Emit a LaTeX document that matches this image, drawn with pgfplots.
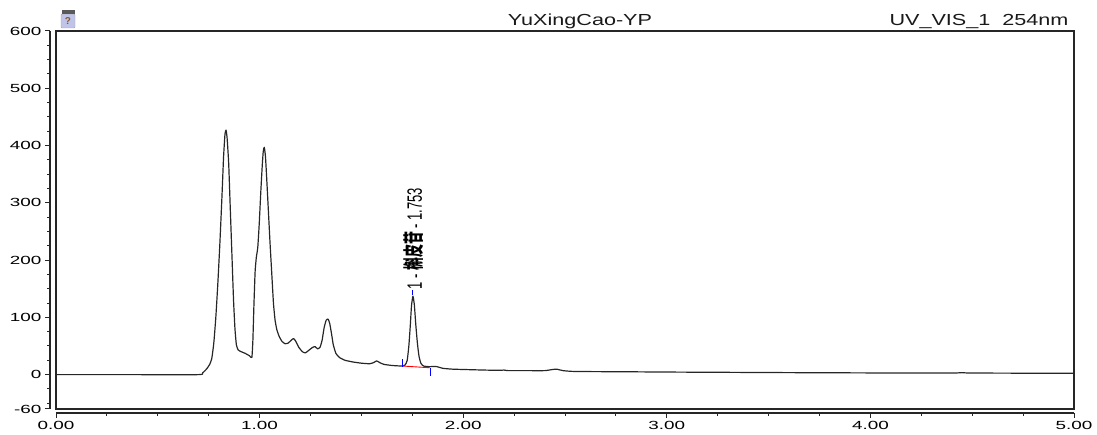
\documentclass[border=0pt]{standalone}
\usepackage{fontspec}
\setmainfont{Liberation Sans}
\newfontfamily\widefont[FakeStretch=1.6]{Liberation Sans}
\newfontfamily\titlefont[FakeStretch=1.35]{Liberation Sans}
\newfontfamily\cjk{Noto Sans CJK SC}
\usepackage{pgfplots}
\pgfplotsset{compat=1.18}

% chromatogram trace: retention time (min) vs. signal (mAU)
\pgfplotstableread{
t      s
0.000  0
0.350  0
0.700  0
0.720  3
0.740  10
0.755  18
0.765  28
0.775  55
0.785  100
0.795  160
0.805  230
0.815  310
0.823  380
0.830  420
0.835  427
0.840  415
0.848  370
0.856  290
0.864  210
0.872  130
0.879  80
0.886  52
0.895  43
0.910  40
0.930  37
0.950  33
0.962  30
0.967  60
0.972  120
0.978  180
0.984  205
0.991  222
0.998  262
1.006  320
1.013  365
1.018  390
1.023  397
1.029  380
1.036  335
1.044  280
1.052  225
1.060  175
1.068  125
1.076  95
1.085  78
1.097  66
1.110  58
1.125  54
1.140  55
1.155  60
1.167  63
1.178  58
1.192  48
1.210  40
1.225  38
1.240  42
1.258  47
1.272  49
1.285  45
1.297  48
1.307  60
1.317  82
1.327  95
1.336  97
1.344  90
1.353  72
1.362  52
1.375  37
1.392  30
1.420  25
1.460  22
1.500  20
1.540  19
1.560  21
1.575  24
1.590  21
1.610  18
1.650  16
1.700  15
1.715  17
1.725  25
1.733  50
1.740  85
1.746  120
1.753  137
1.760  122
1.767  88
1.775  55
1.783  32
1.792  20
1.805  15
1.830  14
1.870  14
1.900  11
1.950  9.5
2.000  9
2.100  8
2.180  7.5
2.200  8
2.220  7
2.300  7
2.400  7
2.440  9
2.460  9.5
2.490  7
2.550  5.5
2.800  5
3.000  4.5
3.300  4
3.600  3.5
4.000  3
4.400  2.8
4.450  3.5
4.500  2.8
5.000  2.3
}\trace

\begin{document}
\begin{tikzpicture}
\useasboundingbox (0,0) rectangle (1097pt,435pt);

% header texts
\node[anchor=base, font=\titlefont\fontsize{16}{18}\selectfont, text=black!90] at (580pt,409pt) {YuXingCao-YP};
\node[anchor=base east, font=\titlefont\fontsize{16}{18}\selectfont, text=black!90] at (1072pt,409pt) {UV\_VIS\_1\ \ 254nm};

% small help icon
\draw[fill=cyan!30!blue!25, draw=gray!70, rounded corners=1pt] (61pt,407pt) rectangle (75pt,421pt);
\fill[gray!70!black] (61.5pt,421pt) rectangle (74.5pt,425pt);
\node[font=\fontsize{10}{11}\selectfont\bfseries, text=brown!70!black] at (68pt,413.5pt) {?};

\begin{axis}[
  scale only axis,
  width=1018pt, height=378pt,
  at={(56pt,26pt)}, anchor=south west,
  xmin=0, xmax=5, ymin=-60, ymax=600,
  axis lines*=left,
  axis line style={-, line width=1.2pt, black!85},
  axis y line shift=6pt,
  axis x line shift=4pt,
  tick align=outside,
  major tick length=5pt,
  minor tick length=3pt,
  every tick/.style={black!85, line width=1pt},
  xtick={0,1,2,3,4,5},
  minor xtick={0.25,0.5,0.75,1.25,1.5,1.75,2.25,2.5,2.75,3.25,3.5,3.75,4.25,4.5,4.75},
  ytick={-60,0,100,200,300,400,500,600},
  minor ytick={-50,-25,25,50,75,125,150,175,225,250,275,325,350,375,425,450,475,525,550,575},
  xticklabel style={/pgf/number format/.cd, fixed, fixed zerofill, precision=2},
  yticklabel style={/pgf/number format/.cd, fixed, precision=0},
  /pgf/number format/assume math mode=true,
  tick label style={font=\widefont\fontsize{11.8}{13}\selectfont, text=black},
  xticklabel shift=0pt,
  yticklabel shift=0pt,
  clip=false,
]
  % plot frame
  \draw[line width=1.2pt, black!85] (rel axis cs:0,0) rectangle (rel axis cs:1,1);

  \addplot[black!85, line width=1.2pt, line join=round, smooth, tension=0.3] table[x=t, y=s] {\trace};

  % integration baseline and delimiters of peak 1
  \draw[red, line width=0.9pt] (axis cs:1.703,15) -- (axis cs:1.837,12);
  \draw[blue, line width=1pt] (axis cs:1.703,13) -- (axis cs:1.703,28);
  \draw[blue, line width=1pt] (axis cs:1.840,12) -- (axis cs:1.840,-2);
  \draw[blue, line width=1pt] (axis cs:1.753,139) -- (axis cs:1.753,148);

  \node[rotate=90, yscale=1.6, anchor=west, inner sep=0pt, font=\fontsize{13}{14}\selectfont, text=black]
    at (axis cs:1.758,148) {1 - {\cjk\bfseries 槲皮苷} - 1.753};
\end{axis}
\end{tikzpicture}
\end{document}
